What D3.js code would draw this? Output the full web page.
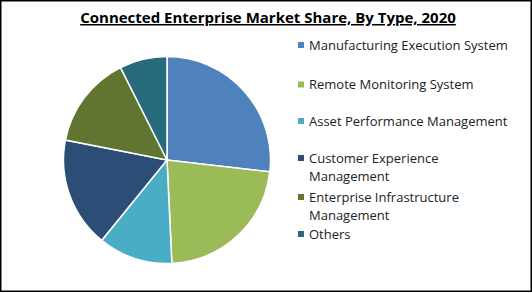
<!DOCTYPE html>
<html>
<head>
<meta charset="UTF-8">
<script src="https://d3js.org/d3.v7.min.js"></script>
<style>
  * { margin: 0; padding: 0; }
  body { background: #fff; font-family: "Open Sans", sans-serif; }
</style>
</head>
<body>
<svg></svg>
<script>
const categories = [
  "Manufacturing Execution System",
  "Remote Monitoring System",
  "Asset Performance Management",
  "Customer Experience Management",
  "Enterprise Infrastructure Management",
  "Others"
];
const shares = [26.8, 22.4, 11.6, 17.2, 14.5, 7.4];
const colors = ["#4f81bd", "#9bbb59", "#4bacc6", "#2c4d75", "#5f7530", "#276a7c"];
// legend labels split into lines the way the picture wraps them
const legendLines = [
  ["Manufacturing Execution System"],
  ["Remote Monitoring System"],
  ["Asset Performance Management"],
  ["Customer Experience", "Management"],
  ["Enterprise Infrastructure", "Management"],
  ["Others"]
];
const legendY = [45, 84.5, 121, 158, 197, 234];

const width = 532, height = 293;
const svg = d3.select("svg").attr("width", width).attr("height", height);

svg.append("rect")
  .attr("x", 0.75).attr("y", 0.75)
  .attr("width", width - 1.5).attr("height", height - 2.5)
  .attr("fill", "#fff").attr("stroke", "#000").attr("stroke-width", 1.5);

// title
svg.append("text")
  .attr("x", 268).attr("y", 23)
  .attr("text-anchor", "middle")
  .attr("font-size", 15).attr("font-weight", "bold")
  .attr("text-decoration", "underline")
  .attr("fill", "#000")
  .text("Connected Enterprise Market Share, By Type, 2020");

// pie
const pie = d3.pie().sort(null).value(d => d);
const arc = d3.arc().innerRadius(0).outerRadius(103.5);
const color = d3.scaleOrdinal().domain(categories).range(colors);

svg.append("g")
  .attr("transform", "translate(167,160)")
  .selectAll("path")
  .data(pie(shares))
  .join("path")
  .attr("d", arc)
  .attr("fill", (d, i) => color(categories[i]))
  .attr("stroke", "#fff")
  .attr("stroke-width", 1.5);

// legend
const legend = svg.append("g").selectAll("g")
  .data(categories)
  .join("g")
  .attr("transform", (d, i) => `translate(298,${legendY[i]})`);

legend.append("rect")
  .attr("x", 0).attr("y", -3)
  .attr("width", 6).attr("height", 6)
  .attr("fill", d => color(d));

legend.append("text")
  .attr("x", 11).attr("y", 4.5)
  .attr("font-size", 13)
  .attr("fill", "#222")
  .selectAll("tspan")
  .data((d, i) => legendLines[i])
  .join("tspan")
  .attr("x", 11)
  .attr("dy", (d, j) => j === 0 ? 0 : 18.5)
  .text(d => d);
</script>
</body>
</html>
